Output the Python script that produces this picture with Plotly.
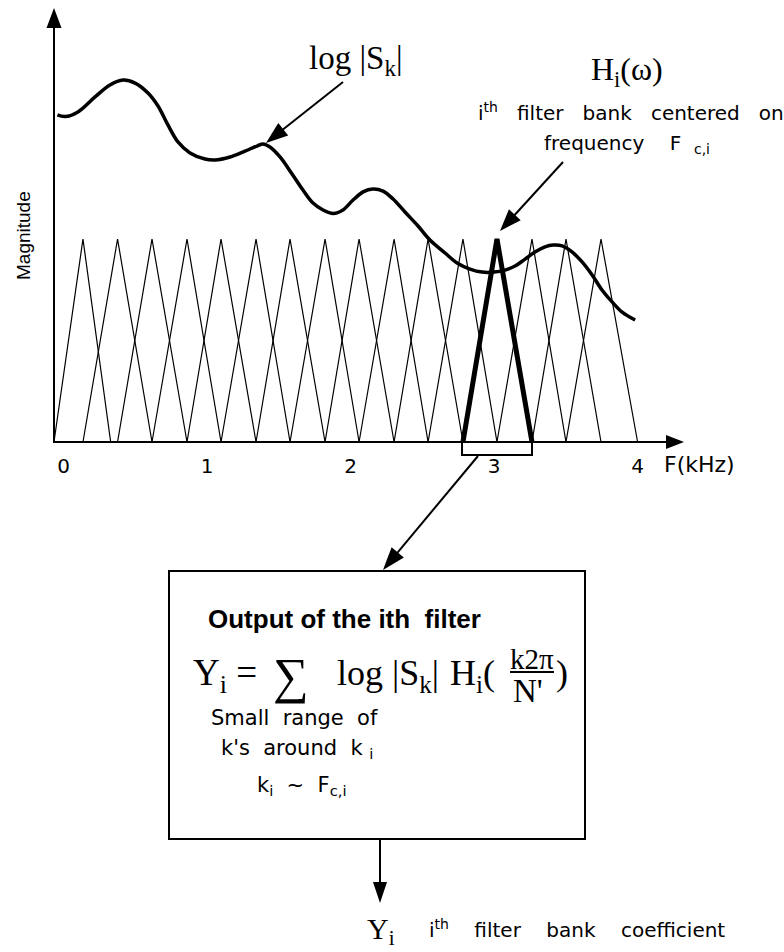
import math
import plotly.graph_objects as go

# ---------------- data ----------------
freq_ticks = [0, 1, 2, 3, 4]
freq_tick_labels = ["0", "1", "2", "3", "4"]

# log |S_k| curve (kHz, magnitude units where filter peak = 1)
spectrum_khz = [-0.043, 0.010, 0.100, 0.219, 0.323, 0.414, 0.498, 0.588, 0.658, 0.727,
                0.797, 0.881, 0.985, 1.055, 1.160, 1.264, 1.348, 1.390, 1.438, 1.508,
                1.592, 1.668, 1.738, 1.808, 1.878, 1.947, 2.017, 2.087, 2.156, 2.226,
                2.296, 2.379, 2.470, 2.553, 2.658, 2.742, 2.832, 2.916, 2.999, 3.076,
                3.146, 3.216, 3.285, 3.355, 3.411, 3.474, 3.543, 3.613, 3.683, 3.752,
                3.822, 3.892, 3.983]
spectrum_log_mag = [1.611, 1.603, 1.626, 1.700, 1.759, 1.783, 1.768, 1.719, 1.655, 1.562,
                    1.478, 1.424, 1.394, 1.389, 1.404, 1.433, 1.458, 1.468, 1.453, 1.404,
                    1.320, 1.241, 1.177, 1.143, 1.126, 1.143, 1.192, 1.232, 1.246, 1.236,
                    1.197, 1.133, 1.064, 0.995, 0.931, 0.882, 0.852, 0.837, 0.837, 0.847,
                    0.867, 0.901, 0.936, 0.961, 0.970, 0.966, 0.936, 0.887, 0.823, 0.749,
                    0.690, 0.640, 0.601]

# triangular filter bank (kHz)
filter_lower_khz = [-0.067, 0.135, 0.376, 0.616, 0.860, 1.097, 1.341, 1.578,
                    1.822, 2.059, 2.303, 2.540, 2.783, 3.020, 3.264, 3.501]
filter_center_khz = [0.135, 0.376, 0.616, 0.860, 1.097, 1.341, 1.578, 1.822,
                     2.059, 2.303, 2.540, 2.783, 3.020, 3.264, 3.501, 3.745]
filter_upper_khz = [0.328, 0.616, 0.860, 1.097, 1.341, 1.578, 1.822, 2.059,
                    2.303, 2.540, 2.783, 3.020, 3.264, 3.501, 3.745, 4.000]
filter_peak = 1.0
highlighted_filter = 12

# ---------------- layout helpers ----------------
W, H = 784, 952
PX0, PXK, PY0, PYU = 63.6, 143.5, 442.0, 203.0   # pixel mapping of the axes


def P(px, py):
    return px / W, 1 - py / H


def sp(n):
    return "\u00a0" * n


SERIF = "Liberation Serif"
SANS = "DejaVu Sans"
ARIAL = "Liberation Sans"

fig = go.Figure()

for i, (lo, c, hi) in enumerate(zip(filter_lower_khz, filter_center_khz, filter_upper_khz)):
    if i == highlighted_filter:
        continue
    fig.add_trace(go.Scatter(x=[lo, c, hi], y=[0, filter_peak, 0], mode="lines",
                             line=dict(color="black", width=1.2), hoverinfo="skip"))

h = highlighted_filter
fig.add_trace(go.Scatter(x=[filter_lower_khz[h], filter_center_khz[h], filter_upper_khz[h]],
                         y=[0, filter_peak, 0], mode="lines",
                         line=dict(color="black", width=5), hoverinfo="skip"))

fig.add_trace(go.Scatter(x=spectrum_khz, y=spectrum_log_mag, mode="lines",
                         line=dict(color="black", width=3.5, shape="spline", smoothing=1.0),
                         hoverinfo="skip"))

shapes = []
annotations = []


def line(p1, p2, width=2):
    x0, y0 = P(*p1)
    x1, y1 = P(*p2)
    shapes.append(dict(type="line", xref="paper", yref="paper", x0=x0, y0=y0, x1=x1, y1=y1,
                       line=dict(color="black", width=width)))


def head(tail, tip, L=20, Wd=7):
    dx = tip[0] - tail[0]
    dy = -(tip[1] - tail[1])
    n = math.hypot(dx, dy)
    ux, uy = dx / n, dy / n
    bx, by = -L * ux, -L * uy
    nx, ny = -uy, ux
    pts = [(0, 0), (bx + Wd * nx, by + Wd * ny), (bx - Wd * nx, by - Wd * ny)]
    path = "M" + " L".join(f"{a:.2f},{b:.2f}" for a, b in pts) + " Z"
    ax, ay = P(*tip)
    shapes.append(dict(type="path", xref="paper", yref="paper", xsizemode="pixel",
                       ysizemode="pixel", xanchor=ax, yanchor=ay, path=path,
                       fillcolor="black", line=dict(width=0)))


def arrow(tail, tip, width=2, L=20, Wd=7):
    n = math.hypot(tip[0] - tail[0], tip[1] - tail[1])
    f = (n - L + 2) / n
    mid = (tail[0] + (tip[0] - tail[0]) * f, tail[1] + (tip[1] - tail[1]) * f)
    line(tail, mid, width)
    head(tail, tip, L, Wd)


def text(s, px, py, size, family=SANS, xanchor="center", yanchor="middle", angle=0,
         bold=False):
    x, y = P(px, py)
    if bold:
        s = "<b>" + s + "</b>"
    annotations.append(dict(text=s, x=x, y=y, xref="paper", yref="paper", showarrow=False,
                            xanchor=xanchor, yanchor=yanchor, textangle=angle,
                            font=dict(family=family, size=size, color="black")))


# axes
arrow((54, 443), (54, 8), width=2, L=20, Wd=7.5)
arrow((53, 442), (684, 442), width=2, L=18, Wd=7)

# bracket under highlighted filter
shapes.append(dict(type="path", xref="paper", yref="paper",
                   path=("M{:.5f},{:.5f} L{:.5f},{:.5f} L{:.5f},{:.5f} L{:.5f},{:.5f}".format(
                       *P(462, 442), *P(462, 455), *P(532, 455), *P(532, 442))),
                   line=dict(color="black", width=2)))

# leader arrows
arrow((343, 82), (266, 143), width=2, L=22, Wd=8)
arrow((563, 162), (500, 231), width=2, L=22, Wd=8)
arrow((478, 456), (383, 570), width=2, L=23, Wd=8)
arrow((380, 839), (380, 903), width=2, L=21, Wd=7)

# box
bx0, by0 = P(169, 571)
bx1, by1 = P(585, 839)
shapes.append(dict(type="rect", xref="paper", yref="paper", x0=bx0, y0=by1, x1=bx1, y1=by0,
                   line=dict(color="black", width=2)))

# fraction bar
line((510, 672), (554, 672), 2)

# texts
text("log |S<sub>k</sub>|", 356, 60, 33, SERIF)
text("H<sub>i</sub>(ω)", 627, 72, 32, SERIF)
text("i<sup>th</sup>" + sp(3) + "filter" + sp(3) + "bank" + sp(3) + "centered" + sp(3) + "on",
     631, 112, 20, SANS)
text("frequency" + sp(4) + "F" + sp(2) + "<sub>c,i</sub>", 627, 144, 20, SANS)
text("Magnitude", 23, 236, 19, ARIAL, angle=-90)
text("F(kHz)", 699, 464, 22, SANS)

text("Output of the ith" + sp(2) + "filter", 206, 619, 26, ARIAL, xanchor="left", bold=True)
text("Y<sub>i</sub> =", 191, 675, 37, SERIF, xanchor="left")
text("∑", 291, 676, 50, SERIF)
text("log |S<sub>k</sub>|", 335, 675, 36, SERIF, xanchor="left")
text("H<sub>i</sub>(", 448, 675, 36, SERIF, xanchor="left")
text("k2π", 532, 659, 29, SERIF)
text("N'", 528, 691, 33, SERIF)
text(")", 562, 673, 36, SERIF)

text("Small" + sp(2) + "range" + sp(2) + "of", 294, 718, 21, SANS)
text("k's" + sp(2) + "around" + sp(2) + "k " + "<sub>i</sub>", 297, 749, 21, SANS)
text("k<sub>i</sub>" + sp(2) + "~" + sp(2) + "F<sub>c,i</sub>", 301, 786, 21, SANS)

text("Y<sub>i</sub>", 381, 931, 30, SERIF)
text("i<sup>th</sup>" + sp(4) + "filter" + sp(4) + "bank" + sp(4) + "coefficient", 427, 929,
     20, SANS, xanchor="left")

fig.update_layout(
    width=W, height=H, margin=dict(l=0, r=0, t=0, b=0),
    paper_bgcolor="white", plot_bgcolor="white", showlegend=False,
    shapes=shapes, annotations=annotations,
    xaxis=dict(range=[(0 - PX0) / PXK, (W - PX0) / PXK], anchor="free",
               position=1 - PY0 / H, showgrid=False, zeroline=False, showline=False,
               tickmode="array", tickvals=freq_ticks, ticktext=freq_tick_labels,
               ticks="outside", ticklen=6, tickcolor="rgba(0,0,0,0)",
               tickfont=dict(family=SANS, size=20, color="black"), fixedrange=True),
    yaxis=dict(range=[(PY0 - H) / PYU, PY0 / PYU], visible=False, fixedrange=True),
)

fig.write_html("out.html", config={"displayModeBar": False},
               post_script="document.body.style.margin='0';document.body.style.overflow='hidden';")
